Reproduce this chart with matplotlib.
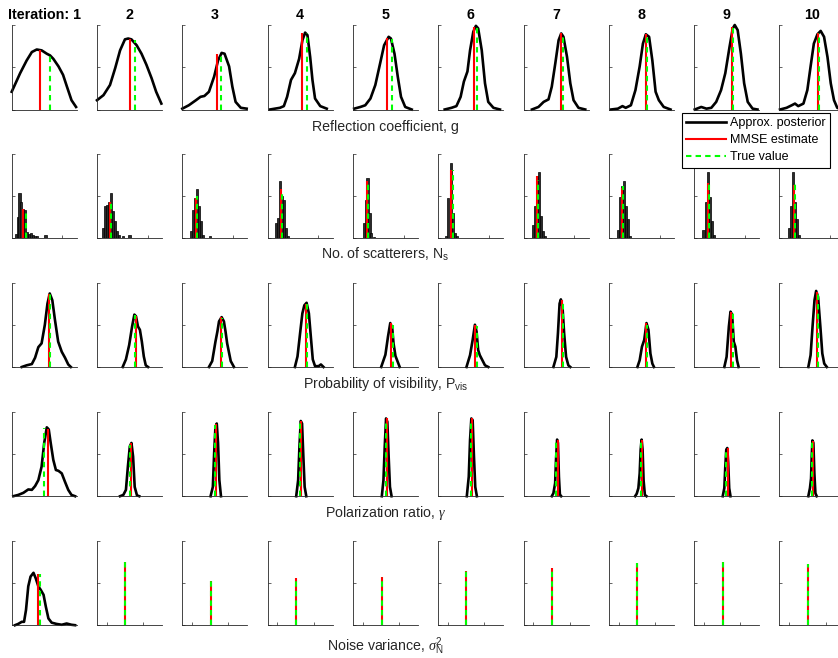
import matplotlib
matplotlib.use('Agg')
import matplotlib.pyplot as plt
from matplotlib.lines import Line2D

plt.rcParams['font.family'] = ['Liberation Sans', 'DejaVu Sans']
plt.rcParams['mathtext.fontset'] = 'custom'
plt.rcParams['mathtext.rm'] = 'Liberation Sans'
plt.rcParams['mathtext.it'] = 'Liberation Serif:italic'
plt.rcParams['mathtext.bf'] = 'Liberation Sans:bold'

# ---------------- data (normalised panel units) ----------------
iterations = ['Iteration: 1', '2', '3', '4', '5', '6', '7', '8', '9', '10']
row_labels = ['Reflection coefficient, g',
              'No. of scatterers, $\\mathrm{N}_\\mathrm{s}$',
              'Probability of visibility, $\\mathrm{P}_\\mathrm{vis}$',
              'Polarization ratio, $\\gamma$',
              'Noise variance, $\\sigma^2_\\mathrm{N}$']
legend_labels = ['Approx. posterior', 'MMSE estimate', 'True value']

# Row 1: reflection coefficient g  (posterior curves)
g_x = [
    [0.0, 0.13, 0.23, 0.31, 0.385, 0.46, 0.54, 0.59, 0.64, 0.72, 0.79, 0.85, 0.92, 0.99],
    [0.0, 0.10, 0.20, 0.28, 0.355, 0.43, 0.48, 0.53, 0.61, 0.685, 0.76, 0.84, 0.91, 0.99],
    [0.0, 0.10, 0.21, 0.28, 0.34, 0.41, 0.49, 0.55, 0.605, 0.65, 0.72, 0.77, 0.82, 0.90, 0.99],
    [0.036, 0.19, 0.25, 0.30, 0.36, 0.42, 0.485, 0.536, 0.577, 0.613, 0.655, 0.69, 0.73, 0.81, 0.91],
    [0.02, 0.115, 0.19, 0.27, 0.345, 0.42, 0.48, 0.55, 0.585, 0.64, 0.69, 0.74, 0.805, 0.905],
    [0.10, 0.205, 0.28, 0.345, 0.395, 0.45, 0.49, 0.54, 0.58, 0.615, 0.67, 0.72, 0.77, 0.85, 0.95],
    [0.13, 0.23, 0.31, 0.385, 0.435, 0.49, 0.54, 0.58, 0.615, 0.67, 0.72, 0.77, 0.846, 0.95],
    [0.035, 0.14, 0.21, 0.26, 0.34, 0.41, 0.475, 0.525, 0.57, 0.62, 0.67, 0.72, 0.77, 0.845, 0.95],
    [0.01, 0.11, 0.19, 0.265, 0.34, 0.415, 0.48, 0.545, 0.595, 0.625, 0.67, 0.72, 0.77, 0.825, 0.90, 0.975],
    [0.01, 0.11, 0.19, 0.24, 0.29, 0.37, 0.43, 0.48, 0.53, 0.585, 0.635, 0.687, 0.74, 0.79, 0.84, 0.89, 0.96],
]
g_y = [
    [0.21, 0.43, 0.58, 0.68, 0.71, 0.70, 0.66, 0.64, 0.60, 0.51, 0.41, 0.27, 0.11, 0.03],
    [0.11, 0.17, 0.29, 0.49, 0.70, 0.83, 0.84, 0.83, 0.76, 0.66, 0.53, 0.37, 0.21, 0.07],
    [0.01, 0.05, 0.11, 0.15, 0.16, 0.21, 0.39, 0.58, 0.67, 0.66, 0.51, 0.27, 0.09, 0.02, 0.01],
    [0.0, 0.02, 0.04, 0.15, 0.35, 0.43, 0.60, 0.82, 0.91, 0.88, 0.62, 0.35, 0.13, 0.04, 0.01],
    [0.01, 0.03, 0.05, 0.13, 0.29, 0.55, 0.76, 0.86, 0.84, 0.66, 0.39, 0.15, 0.03, 0.0],
    [0.0, 0.02, 0.04, 0.15, 0.33, 0.45, 0.70, 0.92, 0.99, 0.96, 0.70, 0.31, 0.09, 0.02, 0.0],
    [0.0, 0.03, 0.09, 0.12, 0.27, 0.55, 0.82, 0.90, 0.86, 0.62, 0.31, 0.11, 0.02, 0.0],
    [0.0, 0.01, 0.04, 0.02, 0.05, 0.23, 0.51, 0.78, 0.89, 0.86, 0.58, 0.21, 0.11, 0.03, 0.0],
    [0.0, 0.03, 0.01, 0.02, 0.09, 0.23, 0.43, 0.74, 0.96, 1.0, 0.94, 0.66, 0.31, 0.09, 0.01, 0.0],
    [0.0, 0.02, 0.05, 0.07, 0.04, 0.07, 0.23, 0.51, 0.78, 0.89, 0.93, 0.86, 0.62, 0.31, 0.11, 0.02, 0.0],
]
g_mmse_x = [0.43, 0.50, 0.54, 0.536, 0.52, 0.55, 0.57, 0.57, 0.58, 0.60]
g_mmse_h = [0.70, 0.84, 0.66, 0.91, 0.85, 0.98, 0.90, 0.89, 0.98, 0.91]
g_true_x = [0.59, 0.59, 0.60, 0.60, 0.60, 0.595, 0.605, 0.59, 0.60, 0.615]
g_true_h = [0.65, 0.82, 0.66, 0.90, 0.83, 0.98, 0.88, 0.89, 0.98, 0.91]

# Row 2: number of scatterers Ns (histograms)
ns_bins = [
    [0.06, 0.09, 0.12, 0.15, 0.18, 0.21, 0.24, 0.27, 0.30, 0.33, 0.36, 0.39, 0.52],
    [0.10, 0.13, 0.16, 0.19, 0.22, 0.25, 0.28, 0.31, 0.34, 0.40, 0.50],
    [0.135, 0.165, 0.195, 0.225, 0.255, 0.285, 0.315, 0.43],
    [0.13, 0.16, 0.19, 0.22, 0.25, 0.28, 0.31],
    [0.165, 0.195, 0.225, 0.255, 0.285, 0.33],
    [0.12, 0.155, 0.19, 0.225, 0.26, 0.29],
    [0.145, 0.175, 0.205, 0.235, 0.265, 0.30, 0.33],
    [0.145, 0.175, 0.205, 0.235, 0.265, 0.295, 0.325],
    [0.145, 0.18, 0.215, 0.25, 0.28, 0.31],
    [0.15, 0.18, 0.21, 0.24, 0.27, 0.30],
]
ns_counts = [
    [0.05, 0.25, 0.53, 0.43, 0.34, 0.33, 0.07, 0.05, 0.06, 0.04, 0.02, 0.02, 0.03],
    [0.12, 0.375, 0.39, 0.43, 0.53, 0.32, 0.20, 0.08, 0.04, 0.02, 0.03],
    [0.08, 0.33, 0.47, 0.58, 0.375, 0.20, 0.04, 0.02],
    [0.18, 0.24, 0.68, 0.50, 0.45, 0.12, 0.02],
    [0.18, 0.45, 0.71, 0.30, 0.06, 0.01],
    [0.02, 0.47, 0.89, 0.30, 0.06, 0.02],
    [0.15, 0.375, 0.73, 0.78, 0.26, 0.08, 0.02],
    [0.10, 0.49, 0.61, 0.67, 0.375, 0.22, 0.02],
    [0.10, 0.43, 0.78, 0.49, 0.20, 0.03],
    [0.12, 0.375, 0.78, 0.43, 0.22, 0.04],
]
ns_mmse_x = [0.17, 0.205, 0.21, 0.20, 0.215, 0.195, 0.20, 0.20, 0.215, 0.225]
ns_mmse_h = [0.34, 0.43, 0.47, 0.58, 0.67, 0.80, 0.73, 0.59, 0.65, 0.63]
ns_true_x = [0.215, 0.22, 0.23, 0.22, 0.235, 0.22, 0.23, 0.22, 0.225, 0.235]
ns_true_h = [0.33, 0.43, 0.50, 0.53, 0.67, 0.80, 0.69, 0.61, 0.65, 0.67]

# Row 3: probability of visibility Pvis
pv_x = [
    [0.155, 0.23, 0.31, 0.36, 0.41, 0.46, 0.51, 0.55, 0.585, 0.625, 0.665, 0.715, 0.77, 0.82, 0.87, 0.91],
    [0.395, 0.445, 0.495, 0.54, 0.575, 0.60, 0.63, 0.66, 0.69, 0.72, 0.75, 0.785],
    [0.41, 0.46, 0.51, 0.54, 0.565, 0.605, 0.64, 0.665, 0.69, 0.745, 0.795],
    [0.42, 0.46, 0.50, 0.535, 0.565, 0.60, 0.635, 0.665, 0.695, 0.73, 0.785, 0.82, 0.86],
    [0.435, 0.50, 0.54, 0.575, 0.605, 0.625, 0.655, 0.685, 0.72],
    [0.435, 0.49, 0.53, 0.565, 0.59, 0.615, 0.64, 0.68, 0.72, 0.745, 0.77],
    [0.46, 0.505, 0.53, 0.555, 0.575, 0.60, 0.625, 0.655, 0.69, 0.72],
    [0.44, 0.475, 0.51, 0.545, 0.58, 0.61, 0.64, 0.67, 0.695],
    [0.465, 0.50, 0.535, 0.56, 0.585, 0.61, 0.635, 0.66, 0.685],
    [0.445, 0.48, 0.51, 0.54, 0.565, 0.595, 0.63, 0.66, 0.69, 0.73],
]
pv_y = [
    [0.0, 0.02, 0.035, 0.11, 0.235, 0.28, 0.50, 0.75, 0.87, 0.79, 0.56, 0.30, 0.18, 0.11, 0.03, 0.0],
    [0.0, 0.09, 0.26, 0.48, 0.62, 0.60, 0.48, 0.44, 0.30, 0.125, 0.02, 0.0],
    [0.0, 0.07, 0.30, 0.42, 0.54, 0.59, 0.54, 0.42, 0.28, 0.07, 0.0],
    [0.0, 0.125, 0.40, 0.635, 0.73, 0.76, 0.635, 0.36, 0.09, 0.01, 0.01, 0.03, 0.0],
    [0.0, 0.145, 0.36, 0.52, 0.46, 0.28, 0.13, 0.07, 0.0],
    [0.0, 0.14, 0.32, 0.50, 0.42, 0.20, 0.14, 0.08, 0.02, 0.01, 0.0],
    [0.0, 0.12, 0.40, 0.75, 0.80, 0.71, 0.40, 0.12, 0.02, 0.0],
    [0.0, 0.08, 0.24, 0.32, 0.52, 0.44, 0.16, 0.04, 0.0],
    [0.0, 0.12, 0.48, 0.655, 0.62, 0.30, 0.24, 0.08, 0.0],
    [0.0, 0.14, 0.48, 0.79, 0.90, 0.83, 0.48, 0.16, 0.04, 0.0],
]
pv_mmse_x = [0.58, 0.605, 0.595, 0.59, 0.585, 0.56, 0.585, 0.575, 0.575, 0.58]
pv_mmse_h = [0.86, 0.60, 0.59, 0.75, 0.52, 0.50, 0.79, 0.52, 0.65, 0.89]
pv_true_x = [0.595, 0.585, 0.61, 0.60, 0.61, 0.595, 0.605, 0.595, 0.60, 0.60]
pv_true_h = [0.86, 0.61, 0.585, 0.75, 0.50, 0.48, 0.76, 0.50, 0.64, 0.86]

# Row 4: polarization ratio gamma
pr_x = [
    [0.025, 0.10, 0.18, 0.255, 0.31, 0.36, 0.41, 0.46, 0.50, 0.54, 0.57, 0.60, 0.64, 0.68, 0.72, 0.77, 0.82, 0.87, 0.92, 0.975],
    [0.355, 0.405, 0.445, 0.475, 0.505, 0.53, 0.555, 0.58, 0.615, 0.65],
    [0.435, 0.47, 0.49, 0.51, 0.53, 0.55, 0.57, 0.595],
    [0.44, 0.47, 0.49, 0.51, 0.53, 0.55, 0.57, 0.595],
    [0.445, 0.47, 0.49, 0.51, 0.53, 0.55, 0.57, 0.595],
    [0.44, 0.47, 0.49, 0.51, 0.53, 0.55, 0.57, 0.595],
    [0.435, 0.46, 0.487, 0.50, 0.517, 0.53, 0.545, 0.56, 0.58],
    [0.405, 0.43, 0.455, 0.475, 0.49, 0.505, 0.52, 0.535, 0.555, 0.58],
    [0.44, 0.465, 0.48, 0.495, 0.51, 0.525, 0.54, 0.56],
    [0.445, 0.47, 0.487, 0.497, 0.508, 0.523, 0.538, 0.554, 0.574],
]
pr_y = [
    [0.0, 0.015, 0.04, 0.08, 0.075, 0.12, 0.19, 0.35, 0.63, 0.815, 0.79, 0.63, 0.43, 0.31, 0.30, 0.27, 0.17, 0.075, 0.015, 0.0],
    [0.0, 0.015, 0.075, 0.35, 0.59, 0.63, 0.47, 0.11, 0.01, 0.0],
    [0.0, 0.11, 0.51, 0.82, 0.86, 0.63, 0.19, 0.0],
    [0.0, 0.19, 0.59, 0.89, 0.86, 0.47, 0.11, 0.0],
    [0.0, 0.19, 0.59, 0.92, 0.88, 0.47, 0.11, 0.0],
    [0.0, 0.23, 0.665, 0.92, 0.90, 0.47, 0.11, 0.0],
    [0.0, 0.035, 0.155, 0.43, 0.67, 0.63, 0.23, 0.02, 0.0],
    [0.0, 0.03, 0.095, 0.27, 0.55, 0.67, 0.55, 0.19, 0.015, 0.0],
    [0.0, 0.095, 0.35, 0.55, 0.57, 0.39, 0.095, 0.0],
    [0.0, 0.095, 0.21, 0.47, 0.66, 0.63, 0.27, 0.035, 0.0],
]
pr_mmse_x = [0.565, 0.52, 0.525, 0.52, 0.525, 0.52, 0.525, 0.51, 0.52, 0.52]
pr_mmse_h = [0.80, 0.63, 0.86, 0.89, 0.92, 0.92, 0.67, 0.67, 0.57, 0.65]
pr_true_x = [0.50, 0.50, 0.50, 0.50, 0.505, 0.50, 0.50, 0.49, 0.49, 0.50]
pr_true_h = [0.81, 0.61, 0.84, 0.87, 0.90, 0.90, 0.66, 0.66, 0.56, 0.65]

# Row 5: noise variance (only the first posterior is wide enough to be seen)
nv_x = [
    [0.05, 0.10, 0.155, 0.19, 0.22, 0.255, 0.29, 0.335, 0.37, 0.41, 0.445, 0.49, 0.525, 0.565, 0.615, 0.69, 0.77, 0.845, 0.92, 0.975],
    None, None, None, None, None, None, None, None, None,
]
nv_y = [
    [0.0, 0.015, 0.04, 0.04, 0.18, 0.46, 0.575, 0.62, 0.555, 0.46, 0.42, 0.36, 0.22, 0.08, 0.03, 0.015, 0.005, 0.02, 0.005, 0.0],
    None, None, None, None, None, None, None, None, None,
]
nv_mmse_x = [0.405, 0.43, 0.44, 0.44, 0.44, 0.435, 0.445, 0.44, 0.44, 0.445]
nv_mmse_h = [0.61, 0.75, 0.52, 0.555, 0.575, 0.645, 0.68, 0.74, 0.75, 0.725]
nv_true_x = [0.435, 0.43, 0.44, 0.44, 0.44, 0.435, 0.445, 0.44, 0.44, 0.445]
nv_true_h = [0.61, 0.75, 0.52, 0.555, 0.575, 0.645, 0.68, 0.74, 0.75, 0.725]

# ---------------- layout ----------------
W, H = 838, 658
fig = plt.figure(figsize=(W / 100, H / 100), dpi=100)

col_left0, col_pitch, ax_w = 11.7, 85.3, 65.0
row_tops = [25.0, 153.5, 282.5, 411.7, 540.7]
ax_h = 84.5
axis_col = '#262626'

BLACK_LW, RED_LW, GREEN_LW = 1.9, 1.5, 1.5

rows = [
    dict(kind='curve', x=g_x, y=g_y, mx=g_mmse_x, mh=g_mmse_h, tx=g_true_x, th=g_true_h, xt=[]),
    dict(kind='hist', x=ns_bins, y=ns_counts, mx=ns_mmse_x, mh=ns_mmse_h, tx=ns_true_x, th=ns_true_h, xt=[0.78]),
    dict(kind='curve', x=pv_x, y=pv_y, mx=pv_mmse_x, mh=pv_mmse_h, tx=pv_true_x, th=pv_true_h, xt=[]),
    dict(kind='curve', x=pr_x, y=pr_y, mx=pr_mmse_x, mh=pr_mmse_h, tx=pr_true_x, th=pr_true_h, xt=[]),
    dict(kind='curve', x=nv_x, y=nv_y, mx=nv_mmse_x, mh=nv_mmse_h, tx=nv_true_x, th=nv_true_h, xt=[0.15, 0.71]),
]

for r, row in enumerate(rows):
    for c in range(10):
        left = col_left0 + c * col_pitch
        top = row_tops[r]
        ax = fig.add_axes([left / W, 1 - (top + ax_h) / H, ax_w / W, ax_h / H])
        ax.set_xlim(0, 1)
        ax.set_ylim(0, 1)
        for s in ['top', 'right']:
            ax.spines[s].set_visible(False)
        for s in ['left', 'bottom']:
            ax.spines[s].set_color(axis_col)
            ax.spines[s].set_linewidth(0.6)
        ax.set_yticks([0, 0.5, 1])
        if r == 4 and c == 0:
            ax.set_xticks([])
        else:
            ax.set_xticks(row['xt'])
        ax.tick_params(direction='in', length=2.2, width=0.5, color=axis_col,
                       labelleft=False, labelbottom=False)

        xs, ys = row['x'][c], row['y'][c]
        if row['kind'] == 'hist':
            ax.bar(xs, ys, width=0.032, color='#2a2a2a', edgecolor='black',
                   linewidth=0.5, zorder=2)
        elif xs is not None:
            ax.plot(xs, ys, color='black', lw=BLACK_LW, solid_joinstyle='round',
                    clip_on=False, zorder=2)
        ax.plot([row['mx'][c], row['mx'][c]], [0, row['mh'][c]], color='#ff0000',
                lw=RED_LW, solid_capstyle='butt', zorder=3, clip_on=False)
        ax.plot([row['tx'][c], row['tx'][c]], [0, row['th'][c]], color='#00ff00',
                lw=GREEN_LW, dashes=(2.6, 2.0), dash_capstyle='butt', zorder=4,
                clip_on=False)
        if r == 0:
            ax.set_title(iterations[c], fontsize=10.3, fontweight='bold', pad=4,
                         color='black')

# row labels (centred under column 5)
label_x = (col_left0 + 4 * col_pitch + ax_w / 2) / W
label_offsets = [21, 21, 21, 21, 25]
for r in range(5):
    yb = row_tops[r] + ax_h + label_offsets[r]
    fig.text(label_x, 1 - yb / H, row_labels[r], ha='center', va='baseline',
             fontsize=10.2, color=axis_col)

# legend
handles = [Line2D([], [], color='black', lw=BLACK_LW),
           Line2D([], [], color='#ff0000', lw=RED_LW),
           Line2D([], [], color='#00ff00', lw=GREEN_LW, dashes=(2.6, 2.0))]
leg = fig.legend(handles, legend_labels, loc='upper left',
                 bbox_to_anchor=(682 / W, 1 - 113 / H), fontsize=9,
                 frameon=True, fancybox=False, framealpha=1, edgecolor='black',
                 handlelength=3.2, handletextpad=0.32, borderpad=0.35,
                 labelspacing=0.4, borderaxespad=0)
leg.get_frame().set_linewidth(0.8)

fig.savefig('out.png', dpi=100)
